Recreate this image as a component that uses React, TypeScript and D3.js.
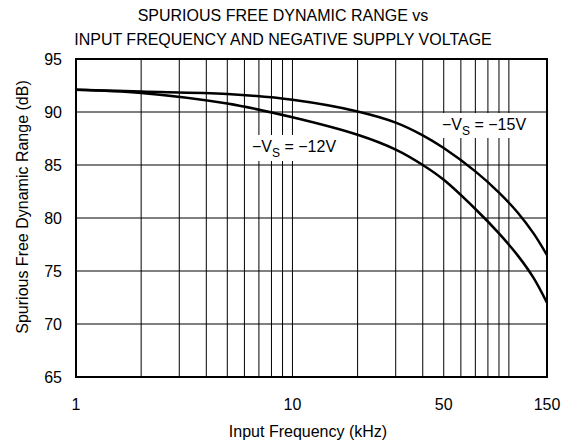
import React from "react";
import * as d3 from "d3";

const freqs = [1, 2, 5, 10, 20, 30, 40, 50, 70, 90, 110, 130, 150];
const sfdr15 = [92.1, 91.93, 91.7, 91.15, 90.05, 89.0, 87.8, 86.6, 84.4, 82.4, 80.5, 78.55, 76.5];
const sfdr12 = [92.1, 91.8, 90.8, 89.5, 87.85, 86.45, 85.0, 83.6, 80.85, 78.55, 76.45, 74.35, 72.0];
const xTicks = [1, 10, 50, 150];
const yTicks = [65, 70, 75, 80, 85, 90, 95];
const xGrid = [2, 3, 4, 5, 6, 7, 8, 9, 10, 20, 30, 40, 50, 60, 70, 80, 90, 100];
const yGrid = [70, 75, 80, 85, 90];

const W = 574, H = 445;
const L = 76, R = 547, T = 59, B = 377;
const FONT = "'Liberation Sans', Arial, sans-serif";

export default function App() {
  const x = d3.scaleLog().domain([1, 150]).range([L, R]);
  const y = d3.scaleLinear().domain([65, 95]).range([B, T]);
  const line = d3
    .line<number>()
    .x((_, i) => x(freqs[i]))
    .y((d) => y(d))
    .curve(d3.curveCatmullRom.alpha(0.5));

  const label = (lx: number, ly: number, v: string, box: [number, number, number, number]) => (
    <g>
      <rect x={box[0]} y={box[1]} width={box[2]} height={box[3]} fill="#fff" />
      <text x={lx} y={ly} fontSize={16} fontFamily={FONT} fill="#000">
        −V
        <tspan fontSize={12} dy={5}>S</tspan>
        <tspan dy={-5}> = −{v}V</tspan>
      </text>
    </g>
  );

  return (
    <svg width={W} height={H} style={{ position: "absolute", left: 0, top: 0, background: "#fff" }}>
      <rect width={W} height={H} fill="#fff" />
      <text x={283} y={21} textAnchor="middle" fontSize={16} fontFamily={FONT}>
        SPURIOUS FREE DYNAMIC RANGE vs
      </text>
      <text x={283} y={45} textAnchor="middle" fontSize={16} fontFamily={FONT}>
        INPUT FREQUENCY AND NEGATIVE SUPPLY VOLTAGE
      </text>
      {xGrid.map((f) => (
        <line key={"gx" + f} x1={x(f)} x2={x(f)} y1={T} y2={B} stroke="#000" strokeWidth={1} />
      ))}
      {yGrid.map((v) => (
        <line key={"gy" + v} x1={L} x2={R} y1={y(v)} y2={y(v)} stroke="#000" strokeWidth={1} />
      ))}
      {label(252, 152, "12", [248, 135, 102, 26])}
      {label(442, 130, "15", [437, 113, 103, 25])}
      <path d={line(sfdr15) || ""} fill="none" stroke="#000" strokeWidth={2.5} />
      <path d={line(sfdr12) || ""} fill="none" stroke="#000" strokeWidth={2.5} />
      <rect x={L} y={T} width={R - L} height={B - T} fill="none" stroke="#000" strokeWidth={2} />
      {yTicks.map((v) => (
        <text key={"ty" + v} x={62} y={y(v) + 6} textAnchor="end" fontSize={16} fontFamily={FONT}>
          {v}
        </text>
      ))}
      {xTicks.map((f) => (
        <text key={"tx" + f} x={x(f)} y={410} textAnchor="middle" fontSize={16} fontFamily={FONT}>
          {f}
        </text>
      ))}
      <text x={308} y={437} textAnchor="middle" fontSize={16} fontFamily={FONT}>
        Input Frequency (kHz)
      </text>
      <text
        transform={`translate(28,207) rotate(-90)`}
        textAnchor="middle"
        fontSize={16}
        fontFamily={FONT}
      >
        Spurious Free Dynamic Range (dB)
      </text>
    </svg>
  );
}
